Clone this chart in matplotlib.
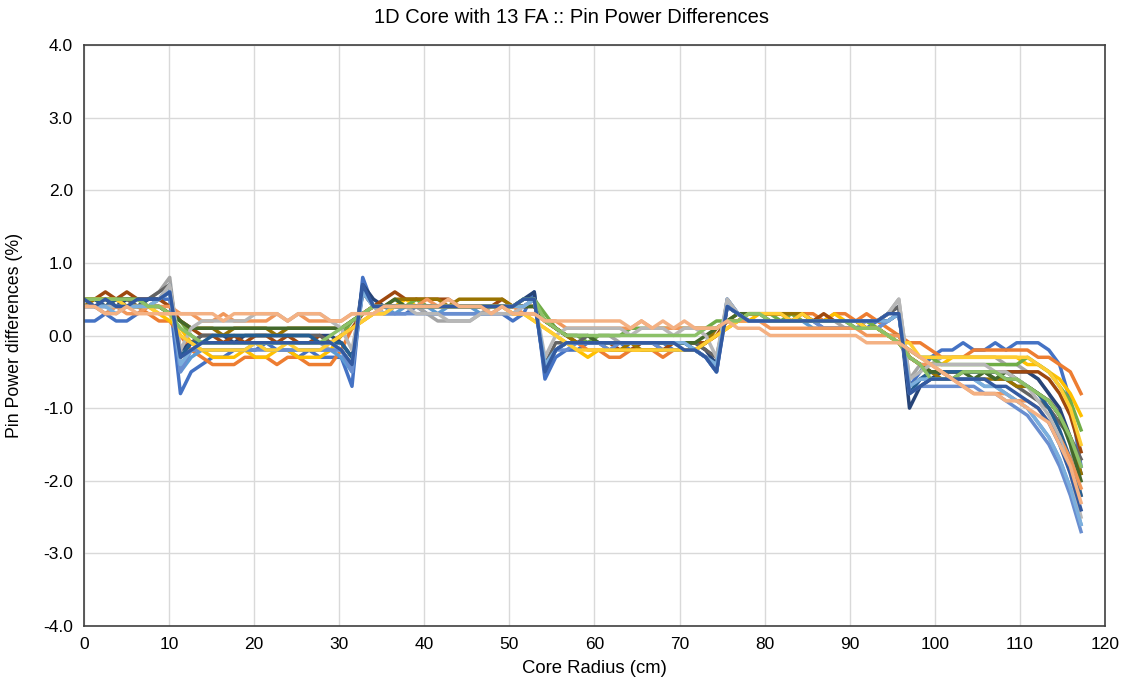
import matplotlib
matplotlib.use("Agg")
from matplotlib import pyplot as plt

# pin centre positions (cm): half assembly then 5 full assemblies
radius = [0.00, 1.26, 2.52, 3.78, 5.04, 6.30, 7.56, 8.82, 10.08,
          11.34, 12.60, 13.86, 15.12, 16.38, 17.64, 18.90, 20.16, 21.42, 22.68, 23.94, 25.20, 26.46, 27.72, 28.98, 30.24, 31.50,
          32.76, 34.02, 35.28, 36.54, 37.80, 39.06, 40.32, 41.58, 42.84, 44.10, 45.36, 46.62, 47.88, 49.14, 50.40, 51.66, 52.92,
          54.18, 55.44, 56.70, 57.96, 59.22, 60.48, 61.74, 63.00, 64.26, 65.52, 66.78, 68.04, 69.30, 70.56, 71.82, 73.08, 74.34,
          75.60, 76.86, 78.12, 79.38, 80.64, 81.90, 83.16, 84.42, 85.68, 86.94, 88.20, 89.46, 90.72, 91.98, 93.24, 94.50, 95.76,
          97.02, 98.28, 99.54, 100.80, 102.06, 103.32, 104.58, 105.84, 107.10, 108.36, 109.62, 110.88, 112.14, 113.40, 114.66, 115.92, 117.18]

# pin power differences (%), one list per case
diff_01 = [0.2, 0.2, 0.3, 0.2, 0.2, 0.3, 0.4, 0.5, 0.5,
           -0.8, -0.5, -0.4, -0.3, -0.3, -0.2, -0.2, -0.2, -0.1, -0.2, -0.2, -0.3, -0.2, -0.3, -0.3, -0.3, -0.7,
           0.8, 0.4, 0.3, 0.3, 0.3, 0.4, 0.3, 0.3, 0.3, 0.3, 0.3, 0.3, 0.3, 0.3, 0.2, 0.3, 0.6,
           -0.6, -0.3, -0.2, -0.2, -0.1, -0.1, -0.1, -0.1, -0.2, -0.1, -0.1, -0.1, -0.2, -0.2, -0.2, -0.3, -0.5,
           0.4, 0.3, 0.2, 0.2, 0.2, 0.2, 0.2, 0.2, 0.2, 0.1, 0.1, 0.1, 0.1, 0.1, 0.2, 0.2, 0.3,
           -0.7, -0.5, -0.3, -0.2, -0.2, -0.1, -0.2, -0.2, -0.1, -0.2, -0.1, -0.1, -0.1, -0.2, -0.4, -0.9, -1.8]
diff_02 = [0.4, 0.4, 0.4, 0.5, 0.4, 0.4, 0.3, 0.2, 0.2,
           0.0, -0.2, -0.3, -0.4, -0.4, -0.4, -0.3, -0.3, -0.3, -0.4, -0.3, -0.3, -0.4, -0.4, -0.4, -0.2, 0.1,
           0.2, 0.3, 0.3, 0.4, 0.4, 0.5, 0.4, 0.4, 0.4, 0.4, 0.4, 0.4, 0.4, 0.4, 0.3, 0.3, 0.3,
           0.2, 0.1, 0.0, -0.1, -0.2, -0.2, -0.3, -0.3, -0.2, -0.2, -0.2, -0.3, -0.2, -0.2, -0.2, -0.1, 0.0,
           0.1, 0.2, 0.3, 0.3, 0.3, 0.3, 0.3, 0.3, 0.3, 0.2, 0.3, 0.3, 0.2, 0.3, 0.2, 0.1, 0.0,
           -0.1, -0.1, -0.2, -0.3, -0.3, -0.3, -0.2, -0.2, -0.2, -0.2, -0.2, -0.2, -0.3, -0.3, -0.4, -0.5, -0.8]
diff_03 = [0.5, 0.4, 0.4, 0.4, 0.4, 0.4, 0.5, 0.6, 0.8,
           -0.4, -0.2, -0.1, -0.1, -0.1, -0.1, -0.1, -0.1, -0.1, -0.1, -0.1, -0.1, -0.1, -0.1, -0.2, -0.2, -0.4,
           0.6, 0.4, 0.4, 0.4, 0.4, 0.4, 0.3, 0.2, 0.2, 0.2, 0.2, 0.3, 0.4, 0.4, 0.4, 0.4, 0.5,
           -0.4, -0.2, -0.1, -0.1, -0.1, 0.0, 0.0, -0.1, -0.1, -0.1, -0.1, -0.1, -0.1, -0.1, -0.1, -0.2, -0.4,
           0.5, 0.3, 0.2, 0.2, 0.2, 0.2, 0.2, 0.2, 0.2, 0.2, 0.2, 0.1, 0.1, 0.2, 0.2, 0.3, 0.5,
           -0.6, -0.4, -0.4, -0.3, -0.3, -0.3, -0.3, -0.3, -0.3, -0.4, -0.4, -0.5, -0.6, -0.8, -1.1, -1.5, -2.2]
diff_04 = [0.5, 0.5, 0.4, 0.5, 0.5, 0.4, 0.4, 0.3, 0.2,
           0.1, -0.1, -0.2, -0.3, -0.3, -0.3, -0.2, -0.3, -0.3, -0.2, -0.2, -0.3, -0.3, -0.3, -0.2, 0.0, 0.1,
           0.2, 0.3, 0.4, 0.4, 0.5, 0.4, 0.4, 0.4, 0.4, 0.4, 0.4, 0.4, 0.4, 0.4, 0.3, 0.3, 0.2,
           0.1, 0.0, -0.1, -0.2, -0.3, -0.2, -0.2, -0.2, -0.2, -0.2, -0.2, -0.2, -0.2, -0.2, -0.2, -0.1, 0.0,
           0.1, 0.2, 0.2, 0.3, 0.3, 0.3, 0.3, 0.2, 0.2, 0.2, 0.3, 0.2, 0.2, 0.2, 0.1, 0.0, -0.1,
           -0.2, -0.3, -0.4, -0.4, -0.3, -0.3, -0.3, -0.3, -0.3, -0.3, -0.3, -0.4, -0.4, -0.5, -0.6, -0.8, -1.1]
diff_05 = [0.4, 0.4, 0.3, 0.4, 0.4, 0.4, 0.4, 0.5, 0.7,
           -0.5, -0.3, -0.2, -0.2, -0.2, -0.2, -0.2, -0.1, -0.2, -0.2, -0.2, -0.2, -0.2, -0.2, -0.2, -0.3, -0.5,
           0.7, 0.4, 0.4, 0.3, 0.4, 0.4, 0.4, 0.3, 0.4, 0.4, 0.4, 0.3, 0.3, 0.4, 0.4, 0.4, 0.5,
           -0.5, -0.2, -0.1, -0.1, -0.1, -0.1, -0.1, -0.1, -0.1, -0.1, -0.1, -0.1, -0.1, -0.1, -0.2, -0.3, -0.5,
           0.5, 0.3, 0.2, 0.2, 0.2, 0.2, 0.2, 0.2, 0.1, 0.1, 0.1, 0.1, 0.1, 0.1, 0.1, 0.2, 0.3,
           -0.8, -0.6, -0.6, -0.6, -0.6, -0.6, -0.6, -0.7, -0.7, -0.8, -0.9, -1.0, -1.2, -1.4, -1.7, -2.1, -2.6]
diff_06 = [0.5, 0.5, 0.5, 0.4, 0.5, 0.5, 0.4, 0.4, 0.3,
           0.2, 0.0, -0.1, -0.1, -0.1, -0.1, -0.1, -0.1, -0.1, -0.1, -0.1, -0.1, -0.1, -0.1, -0.1, 0.0, 0.2,
           0.3, 0.4, 0.4, 0.4, 0.4, 0.5, 0.4, 0.4, 0.4, 0.4, 0.4, 0.4, 0.4, 0.4, 0.4, 0.5, 0.5,
           0.3, 0.1, 0.0, 0.0, -0.1, 0.0, 0.0, 0.0, 0.1, 0.1, 0.1, 0.1, 0.1, 0.1, 0.1, 0.1, 0.2,
           0.2, 0.2, 0.3, 0.3, 0.3, 0.2, 0.3, 0.2, 0.2, 0.2, 0.2, 0.2, 0.2, 0.2, 0.1, 0.0, -0.1,
           -0.2, -0.3, -0.3, -0.4, -0.4, -0.4, -0.4, -0.4, -0.4, -0.4, -0.4, -0.3, -0.4, -0.5, -0.7, -0.9, -1.3]
diff_07 = [0.5, 0.5, 0.5, 0.4, 0.5, 0.5, 0.5, 0.5, 0.6,
           -0.2, -0.1, 0.0, 0.0, 0.0, -0.1, 0.0, 0.0, 0.0, 0.0, 0.0, 0.0, 0.0, 0.0, 0.0, -0.1, -0.3,
           0.7, 0.5, 0.4, 0.4, 0.4, 0.4, 0.4, 0.4, 0.4, 0.4, 0.4, 0.4, 0.4, 0.4, 0.4, 0.5, 0.6,
           -0.5, -0.2, -0.1, -0.1, -0.1, -0.1, -0.1, -0.1, -0.1, -0.1, -0.1, -0.1, -0.1, -0.1, -0.1, -0.2, -0.4,
           0.4, 0.3, 0.2, 0.2, 0.2, 0.2, 0.2, 0.2, 0.2, 0.2, 0.2, 0.2, 0.2, 0.2, 0.2, 0.3, 0.4,
           -1.0, -0.7, -0.6, -0.5, -0.5, -0.5, -0.5, -0.5, -0.5, -0.5, -0.5, -0.5, -0.6, -0.8, -1.0, -1.4, -1.9]
diff_08 = [0.5, 0.5, 0.6, 0.5, 0.6, 0.5, 0.5, 0.5, 0.4,
           0.2, 0.1, 0.0, 0.0, -0.1, 0.0, -0.1, 0.0, 0.0, -0.1, 0.0, -0.1, -0.1, 0.0, -0.1, 0.0, 0.1,
           0.3, 0.4, 0.5, 0.6, 0.5, 0.5, 0.5, 0.5, 0.5, 0.4, 0.4, 0.4, 0.4, 0.5, 0.4, 0.4, 0.4,
           0.2, 0.1, 0.0, -0.1, -0.1, -0.1, -0.1, -0.2, -0.2, -0.1, -0.1, -0.2, -0.1, -0.1, -0.1, -0.1, 0.0,
           0.2, 0.2, 0.3, 0.3, 0.3, 0.3, 0.2, 0.3, 0.2, 0.3, 0.2, 0.2, 0.2, 0.1, 0.1, 0.0, -0.1,
           -0.3, -0.4, -0.5, -0.5, -0.5, -0.5, -0.5, -0.5, -0.5, -0.5, -0.5, -0.5, -0.5, -0.6, -0.8, -1.1, -1.6]
diff_09 = [0.5, 0.5, 0.4, 0.5, 0.5, 0.4, 0.5, 0.6, 0.7,
           -0.3, -0.1, 0.0, 0.0, 0.0, 0.0, 0.0, 0.0, 0.0, 0.0, 0.0, 0.0, 0.0, 0.0, -0.1, -0.1, -0.3,
           0.6, 0.4, 0.4, 0.4, 0.4, 0.4, 0.4, 0.4, 0.4, 0.4, 0.4, 0.4, 0.4, 0.4, 0.4, 0.4, 0.5,
           -0.4, -0.1, -0.1, -0.1, 0.0, -0.1, -0.1, -0.1, -0.1, -0.1, -0.1, -0.1, -0.1, -0.1, -0.1, -0.2, -0.3,
           0.4, 0.3, 0.2, 0.2, 0.2, 0.2, 0.2, 0.2, 0.2, 0.2, 0.2, 0.2, 0.2, 0.2, 0.2, 0.3, 0.4,
           -0.7, -0.6, -0.5, -0.5, -0.5, -0.5, -0.5, -0.5, -0.6, -0.6, -0.7, -0.8, -0.9, -1.0, -1.2, -1.4, -1.7]
diff_10 = [0.4, 0.5, 0.5, 0.5, 0.4, 0.4, 0.4, 0.4, 0.3,
           0.2, 0.1, 0.1, 0.1, 0.0, 0.1, 0.1, 0.1, 0.1, 0.0, 0.1, 0.1, 0.1, 0.1, 0.1, 0.1, 0.2,
           0.3, 0.4, 0.4, 0.5, 0.5, 0.5, 0.5, 0.5, 0.4, 0.5, 0.5, 0.5, 0.5, 0.5, 0.4, 0.4, 0.4,
           0.2, 0.1, 0.0, -0.1, -0.1, -0.1, -0.2, -0.2, -0.1, -0.2, -0.2, -0.2, -0.2, -0.2, -0.2, -0.1, 0.1,
           0.2, 0.3, 0.3, 0.3, 0.3, 0.3, 0.3, 0.3, 0.2, 0.2, 0.2, 0.2, 0.2, 0.1, 0.1, 0.0, -0.1,
           -0.3, -0.4, -0.5, -0.6, -0.6, -0.6, -0.6, -0.6, -0.6, -0.6, -0.7, -0.7, -0.8, -0.9, -1.1, -1.4, -1.9]
diff_11 = [0.5, 0.5, 0.4, 0.5, 0.4, 0.4, 0.5, 0.5, 0.6,
           -0.3, -0.1, -0.1, 0.0, 0.0, 0.0, 0.0, 0.0, 0.0, 0.0, 0.0, 0.0, 0.0, -0.1, -0.1, -0.1, -0.3,
           0.6, 0.4, 0.4, 0.4, 0.4, 0.4, 0.4, 0.4, 0.4, 0.4, 0.4, 0.4, 0.4, 0.4, 0.4, 0.5, 0.5,
           -0.4, -0.2, -0.1, -0.1, -0.1, -0.1, -0.1, -0.1, -0.1, -0.1, -0.1, -0.1, -0.1, -0.1, -0.2, -0.3, -0.4,
           0.4, 0.3, 0.2, 0.2, 0.2, 0.2, 0.2, 0.2, 0.2, 0.2, 0.2, 0.2, 0.2, 0.2, 0.2, 0.2, 0.3,
           -0.8, -0.6, -0.5, -0.5, -0.5, -0.5, -0.5, -0.5, -0.5, -0.6, -0.6, -0.7, -0.8, -1.0, -1.3, -1.7, -2.2]
diff_12 = [0.5, 0.5, 0.5, 0.5, 0.5, 0.5, 0.4, 0.4, 0.3,
           0.2, 0.1, 0.1, 0.1, 0.1, 0.1, 0.1, 0.1, 0.1, 0.1, 0.1, 0.1, 0.1, 0.1, 0.1, 0.1, 0.2,
           0.3, 0.4, 0.4, 0.5, 0.4, 0.4, 0.4, 0.4, 0.4, 0.4, 0.4, 0.4, 0.4, 0.4, 0.4, 0.4, 0.4,
           0.2, 0.1, 0.0, 0.0, 0.0, -0.1, -0.1, -0.1, -0.1, -0.1, -0.1, -0.1, -0.1, -0.1, -0.1, 0.0, 0.1,
           0.2, 0.3, 0.3, 0.3, 0.2, 0.2, 0.2, 0.2, 0.2, 0.2, 0.2, 0.2, 0.1, 0.1, 0.1, 0.0, 0.0,
           -0.3, -0.4, -0.5, -0.5, -0.6, -0.5, -0.6, -0.5, -0.6, -0.5, -0.6, -0.7, -0.8, -0.9, -1.1, -1.5, -2.0]
diff_13 = [0.4, 0.4, 0.4, 0.4, 0.4, 0.4, 0.4, 0.5, 0.6,
           -0.5, -0.2, -0.2, -0.2, -0.2, -0.2, -0.2, -0.2, -0.2, -0.2, -0.2, -0.2, -0.2, -0.2, -0.2, -0.2, -0.5,
           0.6, 0.4, 0.3, 0.3, 0.3, 0.3, 0.3, 0.3, 0.3, 0.3, 0.3, 0.3, 0.3, 0.3, 0.3, 0.4, 0.5,
           -0.5, -0.2, -0.2, -0.1, -0.1, -0.1, -0.2, -0.1, -0.1, -0.1, -0.1, -0.2, -0.2, -0.2, -0.2, -0.3, -0.5,
           0.5, 0.3, 0.2, 0.2, 0.2, 0.2, 0.2, 0.2, 0.2, 0.1, 0.1, 0.1, 0.1, 0.1, 0.1, 0.2, 0.3,
           -0.8, -0.7, -0.7, -0.7, -0.7, -0.7, -0.7, -0.8, -0.8, -0.9, -1.0, -1.1, -1.3, -1.5, -1.8, -2.2, -2.7]
diff_14 = [0.4, 0.4, 0.3, 0.4, 0.3, 0.3, 0.4, 0.4, 0.4,
           0.3, 0.3, 0.2, 0.2, 0.3, 0.2, 0.2, 0.2, 0.2, 0.3, 0.2, 0.3, 0.2, 0.2, 0.2, 0.2, 0.3,
           0.3, 0.4, 0.4, 0.4, 0.4, 0.4, 0.5, 0.4, 0.4, 0.4, 0.4, 0.4, 0.3, 0.4, 0.4, 0.3, 0.3,
           0.2, 0.2, 0.1, 0.1, 0.1, 0.1, 0.1, 0.1, 0.1, 0.2, 0.1, 0.1, 0.1, 0.1, 0.1, 0.1, 0.1,
           0.2, 0.2, 0.2, 0.2, 0.1, 0.1, 0.1, 0.1, 0.1, 0.1, 0.1, 0.1, 0.1, 0.0, 0.0, 0.0, 0.0,
           -0.3, -0.4, -0.4, -0.5, -0.6, -0.7, -0.8, -0.8, -0.8, -0.8, -0.9, -0.9, -1.0, -1.2, -1.4, -1.7, -2.1]
diff_15 = [0.4, 0.4, 0.4, 0.4, 0.4, 0.4, 0.4, 0.5, 0.7,
           -0.2, 0.1, 0.2, 0.2, 0.2, 0.2, 0.2, 0.3, 0.3, 0.3, 0.2, 0.3, 0.3, 0.3, 0.2, 0.1, -0.2,
           0.6, 0.4, 0.3, 0.4, 0.4, 0.3, 0.3, 0.3, 0.2, 0.2, 0.2, 0.3, 0.3, 0.3, 0.3, 0.4, 0.5,
           -0.3, 0.0, 0.1, 0.1, 0.1, 0.1, 0.1, 0.1, 0.0, 0.1, 0.1, 0.1, 0.0, 0.1, 0.1, 0.0, -0.3,
           0.5, 0.3, 0.2, 0.2, 0.2, 0.2, 0.2, 0.2, 0.2, 0.2, 0.2, 0.2, 0.2, 0.2, 0.2, 0.3, 0.5,
           -0.6, -0.5, -0.4, -0.4, -0.4, -0.4, -0.4, -0.4, -0.5, -0.5, -0.6, -0.7, -0.9, -1.1, -1.4, -1.9, -2.5]
diff_16 = [0.5, 0.5, 0.5, 0.5, 0.4, 0.4, 0.4, 0.3, 0.3,
           0.0, -0.1, -0.2, -0.2, -0.2, -0.2, -0.2, -0.1, -0.2, -0.2, -0.1, -0.2, -0.2, -0.2, -0.1, 0.0, 0.1,
           0.2, 0.3, 0.3, 0.4, 0.4, 0.4, 0.4, 0.4, 0.4, 0.4, 0.4, 0.4, 0.4, 0.4, 0.3, 0.3, 0.2,
           0.1, 0.0, -0.1, -0.2, -0.2, -0.2, -0.2, -0.2, -0.2, -0.2, -0.2, -0.2, -0.2, -0.2, -0.2, -0.1, 0.0,
           0.1, 0.2, 0.3, 0.3, 0.3, 0.3, 0.2, 0.3, 0.2, 0.2, 0.2, 0.2, 0.2, 0.1, 0.1, 0.0, -0.1,
           -0.1, -0.3, -0.3, -0.3, -0.3, -0.3, -0.3, -0.3, -0.3, -0.3, -0.3, -0.3, -0.4, -0.5, -0.7, -1.0, -1.5]
diff_17 = [0.4, 0.4, 0.4, 0.3, 0.4, 0.4, 0.4, 0.5, 0.6,
           -0.4, -0.2, -0.1, -0.1, -0.1, -0.1, -0.1, -0.1, -0.1, -0.1, -0.1, -0.1, -0.1, -0.1, -0.1, -0.2, -0.4,
           0.6, 0.4, 0.4, 0.4, 0.4, 0.4, 0.4, 0.4, 0.4, 0.4, 0.4, 0.4, 0.4, 0.4, 0.4, 0.4, 0.5,
           -0.4, -0.2, -0.1, -0.1, -0.1, -0.1, -0.1, -0.1, -0.1, -0.1, -0.1, -0.1, -0.1, -0.1, -0.2, -0.3, -0.4,
           0.4, 0.3, 0.2, 0.2, 0.2, 0.2, 0.2, 0.2, 0.2, 0.2, 0.2, 0.2, 0.2, 0.2, 0.2, 0.2, 0.3,
           -0.7, -0.6, -0.6, -0.6, -0.6, -0.6, -0.6, -0.7, -0.7, -0.8, -0.9, -1.0, -1.2, -1.4, -1.7, -2.1, -2.6]
diff_18 = [0.5, 0.5, 0.5, 0.5, 0.5, 0.5, 0.4, 0.4, 0.3,
           0.1, 0.0, -0.1, -0.1, -0.1, -0.1, -0.1, -0.1, -0.1, -0.1, -0.1, -0.1, -0.1, -0.1, 0.0, 0.1, 0.2,
           0.3, 0.4, 0.4, 0.4, 0.4, 0.4, 0.4, 0.4, 0.4, 0.4, 0.4, 0.4, 0.4, 0.4, 0.4, 0.5, 0.5,
           0.2, 0.1, 0.0, 0.0, 0.0, 0.0, 0.0, 0.0, 0.0, 0.0, 0.0, 0.0, 0.0, 0.0, 0.0, 0.1, 0.1,
           0.2, 0.2, 0.3, 0.3, 0.2, 0.2, 0.2, 0.2, 0.2, 0.2, 0.2, 0.2, 0.1, 0.1, 0.1, 0.0, -0.1,
           -0.3, -0.4, -0.6, -0.6, -0.6, -0.5, -0.5, -0.5, -0.5, -0.6, -0.6, -0.7, -0.8, -0.9, -1.1, -1.4, -1.8]
diff_19 = [0.5, 0.4, 0.5, 0.4, 0.4, 0.5, 0.5, 0.5, 0.6,
           -0.3, -0.2, -0.1, -0.1, -0.1, -0.1, -0.1, -0.1, -0.1, -0.1, -0.1, -0.1, -0.1, -0.1, -0.1, -0.2, -0.4,
           0.7, 0.4, 0.4, 0.4, 0.4, 0.4, 0.4, 0.4, 0.4, 0.4, 0.4, 0.4, 0.4, 0.4, 0.4, 0.5, 0.5,
           -0.5, -0.2, -0.1, -0.1, -0.1, -0.1, -0.1, -0.1, -0.1, -0.1, -0.1, -0.1, -0.1, -0.2, -0.2, -0.3, -0.5,
           0.4, 0.3, 0.2, 0.2, 0.2, 0.2, 0.2, 0.2, 0.2, 0.2, 0.2, 0.2, 0.2, 0.2, 0.2, 0.3, 0.3,
           -0.8, -0.7, -0.6, -0.6, -0.6, -0.6, -0.6, -0.6, -0.7, -0.7, -0.8, -0.9, -1.0, -1.2, -1.5, -1.9, -2.4]
diff_20 = [0.4, 0.4, 0.3, 0.3, 0.4, 0.3, 0.3, 0.3, 0.3,
           0.3, 0.3, 0.3, 0.3, 0.2, 0.3, 0.3, 0.3, 0.3, 0.3, 0.2, 0.3, 0.3, 0.3, 0.2, 0.2, 0.3,
           0.3, 0.3, 0.4, 0.4, 0.4, 0.4, 0.4, 0.4, 0.5, 0.4, 0.4, 0.4, 0.3, 0.4, 0.3, 0.3, 0.3,
           0.2, 0.2, 0.2, 0.2, 0.2, 0.2, 0.2, 0.2, 0.1, 0.2, 0.1, 0.2, 0.1, 0.2, 0.1, 0.1, 0.1,
           0.2, 0.1, 0.1, 0.1, 0.0, 0.0, 0.0, 0.0, 0.0, 0.0, 0.0, 0.0, 0.0, -0.1, -0.1, -0.1, -0.1,
           -0.2, -0.3, -0.4, -0.5, -0.6, -0.7, -0.8, -0.8, -0.8, -0.9, -0.9, -1.0, -1.1, -1.2, -1.5, -1.8, -2.3]

all_diffs = [diff_01, diff_02, diff_03, diff_04, diff_05, diff_06, diff_07, diff_08, diff_09, diff_10,
             diff_11, diff_12, diff_13, diff_14, diff_15, diff_16, diff_17, diff_18, diff_19, diff_20]

# office style series colours
colors = ["#4472C4", "#ED7D31", "#A5A5A5", "#FFC000", "#5B9BD5", "#70AD47",
          "#264478", "#9E480E", "#636363", "#997300", "#255E91", "#43682B",
          "#698ED0", "#F1975A", "#B7B7B7", "#FFCD33", "#7CAFDD", "#8CC168",
          "#335AA1", "#F4B183"]

plt.rcParams['font.family'] = ['Liberation Sans', 'DejaVu Sans']

fig = plt.figure(figsize=(11.27, 6.88), dpi=100)
ax = fig.add_axes([0.0745, 0.0901, 0.906, 0.8445])

for i, d in enumerate(all_diffs):
    ax.plot(radius, d, color=colors[i], linewidth=2.5, solid_joinstyle='round')

ax.set_xlim(0, 120)
ax.set_ylim(-4, 4)
ax.set_xticks(range(0, 121, 10))
ax.set_yticks([-4, -3, -2, -1, 0, 1, 2, 3, 4])
ax.set_yticklabels(["%.1f" % v for v in [-4, -3, -2, -1, 0, 1, 2, 3, 4]])
ax.grid(True, color="#D9D9D9", linewidth=1)
ax.set_axisbelow(True)
ax.tick_params(length=0, labelsize=12.5, pad=8, colors="#000000")
for s in ax.spines.values():
    s.set_color("#404040")
    s.set_linewidth(1.2)

fig.text(0.507, 0.974, "1D Core with 13 FA :: Pin Power Differences", fontsize=14.5,
         ha="center", va="center")
ax.set_xlabel("Core Radius (cm)", fontsize=13.3, labelpad=6)
ax.set_ylabel("Pin Power differences (%)", fontsize=12.8, labelpad=14)

plt.savefig("out.png", dpi=100)
